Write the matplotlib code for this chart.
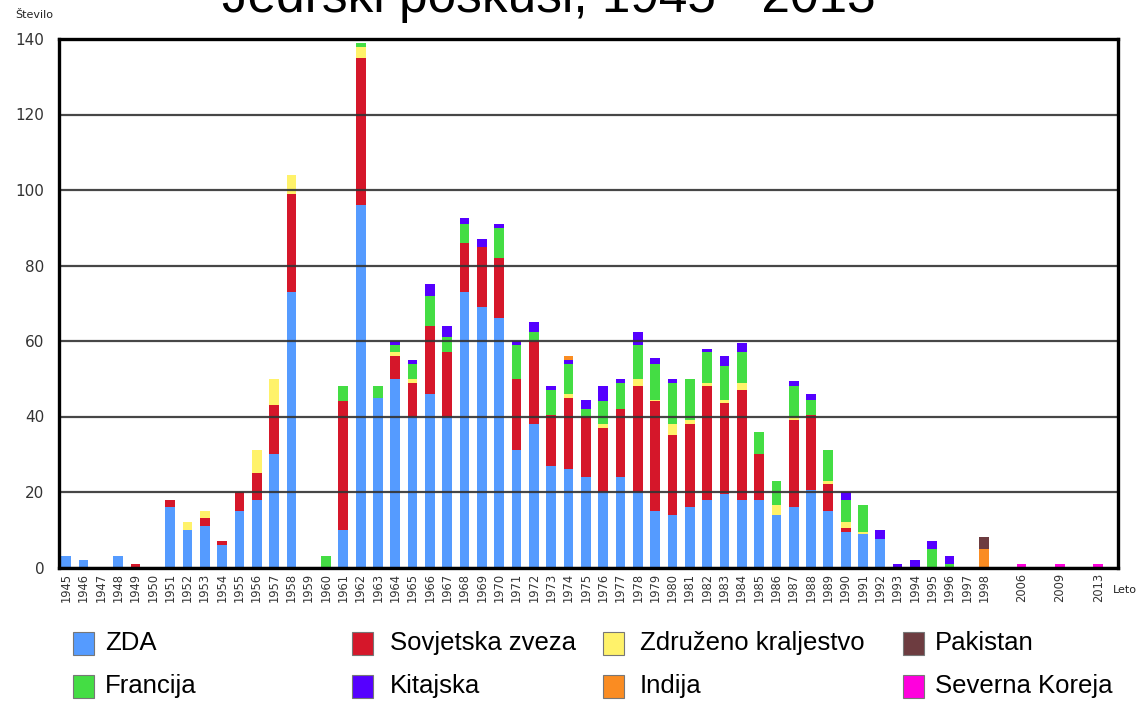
import matplotlib
matplotlib.use("Agg")
import matplotlib.pyplot as plt
from matplotlib.patches import Rectangle
from matplotlib import font_manager
import numpy as np

# ---------------- data ----------------
years = list(range(1945, 1999)) + [2006, 2009, 2013]

# 1945-1950, 1951-1960, 1961-1970, 1971-1980, 1981-1990, 1991-1998, 2006/2009/2013
zda = ([3, 2, 0, 3, 0, 0] +
       [16, 10, 11, 6, 15, 18, 30, 73, 0, 0] +
       [10, 96, 45, 50, 40, 46, 40, 73, 69, 66] +
       [31, 38, 27, 26, 24, 20, 24, 20, 15, 14] +
       [16, 18, 19.5, 18, 18, 14, 16, 20.5, 15, 9.5] +
       [9, 7.5, 0, 0, 0, 0, 0, 0] +
       [0, 0, 0])
sovjetska = ([0, 0, 0, 0, 1, 0] +
             [2, 0, 2, 1, 5, 7, 13, 26, 0, 0] +
             [34, 39, 0, 6, 9, 18, 17, 13, 16, 16] +
             [19, 22, 13.5, 19, 16, 17, 18, 28, 29, 21] +
             [22, 30, 24, 29, 12, 0, 23, 20, 7, 1] +
             [0, 0, 0, 0, 0, 0, 0, 0] +
             [0, 0, 0])
zdruzeno = ([0, 0, 0, 0, 0, 0] +
            [0, 2, 2, 0, 0, 6, 7, 5, 0, 0] +
            [0, 3, 0, 1, 1, 0, 0, 0, 0, 0] +
            [0, 0, 0, 1, 0, 1, 0, 2, 0.5, 3] +
            [1, 1, 1, 2, 0, 2.5, 1, 0, 1, 1.5] +
            [0.5, 0, 0, 0, 0, 0, 0, 0] +
            [0, 0, 0])
francija = ([0, 0, 0, 0, 0, 0] +
            [0, 0, 0, 0, 0, 0, 0, 0, 0, 3] +
            [4, 1, 3, 2, 4, 8, 4, 5, 0, 8] +
            [9, 2.5, 6.5, 8, 2, 6, 7, 9, 9.5, 11] +
            [11, 8, 9, 8, 6, 6.5, 8, 4, 8, 6] +
            [7, 0, 0, 0, 5, 1, 0, 0] +
            [0, 0, 0])
kitajska = ([0, 0, 0, 0, 0, 0] +
            [0, 0, 0, 0, 0, 0, 0, 0, 0, 0] +
            [0, 0, 0, 1, 1, 3, 3, 1.5, 2, 1] +
            [1, 2.5, 1, 1, 2.5, 4, 1, 3.5, 1.5, 1] +
            [0, 1, 2.5, 2.5, 0, 0, 1.5, 1.5, 0, 2] +
            [0, 2.5, 1, 2, 2, 2, 0, 0] +
            [0, 0, 0])
indija = [0] * 29 + [1] + [0] * 23 + [5] + [0, 0, 0]
pakistan = [0] * 53 + [3] + [0, 0, 0]
severna_koreja = [0] * 54 + [1, 1, 1]

series_names = ["ZDA", "Sovjetska zveza", "Združeno kraljestvo", "Francija",
                "Kitajska", "Indija", "Pakistan", "Severna Koreja"]
series_values = [zda, sovjetska, zdruzeno, francija, kitajska, indija, pakistan, severna_koreja]
series_colors = ["#559bff", "#d5172a", "#fff26a", "#44dd44",
                 "#5500ff", "#fa8c22", "#6d3c40", "#ff00dd"]

yticks = [0, 20, 40, 60, 80, 100, 120, 140]

# ---------------- figure ----------------
W, H = 1140, 701
fig = plt.figure(figsize=(W / 100, H / 100), dpi=100)
ax = fig.add_axes([58.5 / W, 1 - 567.5 / H, (1118.3 - 58.5) / W, (567.5 - 39) / H])

# x positions: consecutive years, then gaps for 2006/2009/2013
pos = []
for y in years:
    if y <= 1998:
        pos.append(y - 1945)
pos += [55.16, 57.37, 59.58]
pos = np.array(pos)

bottom = np.zeros(len(years))
for name, vals, col in zip(series_names, series_values, series_colors):
    v = np.array(vals, dtype=float)
    ax.bar(pos, v, bottom=bottom, width=0.56, color=col, edgecolor="none",
           zorder=1, label=name)
    bottom += v

ax.set_xlim(-0.445, 60.74)
ax.set_ylim(0, 140)
ax.set_yticks(yticks)
ax.set_yticklabels([str(t) for t in yticks], fontsize=11, color="#333333")
ax.set_xticks(pos)
ax.set_xticklabels([str(y) for y in years], rotation=90, fontsize=8.3, color="#333333")
ax.tick_params(axis="both", length=0)
ax.tick_params(axis="y", pad=10)
ax.tick_params(axis="x", pad=4)

ax.set_axisbelow(False)
ax.yaxis.grid(True, color="#333333", linewidth=1.6, alpha=0.9)
ax.xaxis.grid(False)
for s in ax.spines.values():
    s.set_color("black")
    s.set_linewidth(2.4)
    s.set_zorder(5)

# title (partly cut at the top of the image, as in the reference)
fig.text(549 / W, 1 - 12 / H, "Jedrski poskusi, 1945 - 2013", fontsize=37,
         family="Liberation Sans", ha="center", va="baseline", color="black")

fig.text(15 / W, 1 - 15 / H, "Število", fontsize=8, ha="left", va="center", color="#222222")
fig.text(1113 / W, 1 - 590 / H, "Leto", fontsize=8, ha="left", va="center", color="#222222")

# legend
names = {f.name for f in font_manager.fontManager.ttflist}
if "Liberation Sans Narrow" in names:
    leg_family, leg_size = "Liberation Sans Narrow", 22.5
else:
    leg_family, leg_size = "Liberation Sans", 18.5

col_sq = [73, 352, 603, 903]
col_tx = [105, 390, 640, 935]
row_y = [643, 686]
layout = [(0, 0), (0, 1), (0, 2), (1, 0), (1, 1), (1, 2), (0, 3), (1, 3)]
for (r, c), name, col in zip(layout, series_names, series_colors):
    sq = Rectangle((col_sq[c] / W, 1 - (row_y[r] + 11.5) / H), 21 / W, 23 / H,
                   transform=fig.transFigure, facecolor=col, edgecolor="#777777",
                   linewidth=0.8)
    fig.patches.append(sq)
    fig.text(col_tx[c] / W, 1 - row_y[r] / H, name, fontsize=leg_size,
             family=leg_family, ha="left", va="center", color="black")

fig.savefig("out.png", dpi=100)
